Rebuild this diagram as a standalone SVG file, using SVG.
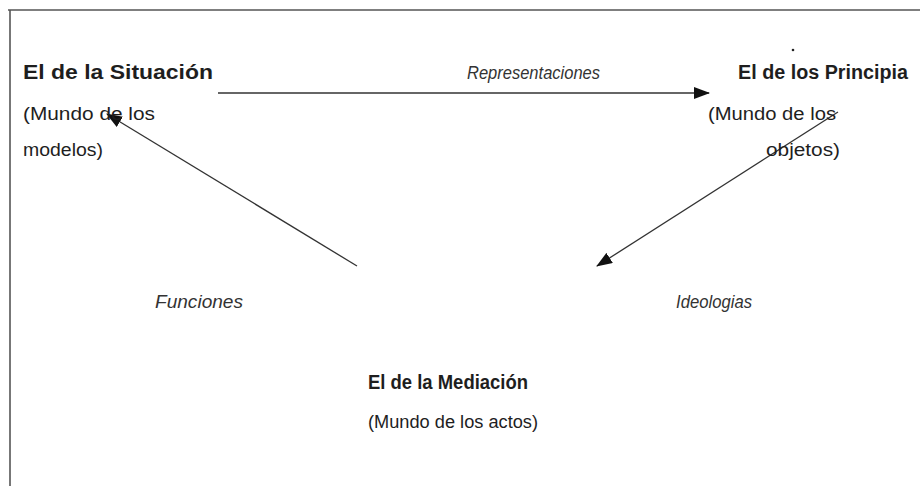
<svg xmlns="http://www.w3.org/2000/svg" width="920" height="486" viewBox="0 0 920 486">
<style>
text{font-family:"Liberation Sans",Arial,sans-serif;fill:#1e1e1e}
.b{font-weight:bold;font-size:20px}
.r{font-size:17.5px}
.i{font-size:18px;font-style:italic;fill:#333}
.c{stroke:#333;stroke-width:1.3;fill:none}
.frame{stroke:#555;stroke-width:1.6;fill:none}
</style>
<defs>
<marker id="ah" viewBox="0 0 16 12" refX="15" refY="6" markerWidth="16" markerHeight="12" markerUnits="userSpaceOnUse" orient="auto">
<path d="M0,0 L16,6 L0,12 Z" fill="#111"/>
</marker>
</defs>
<rect width="920" height="486" fill="#fff"/>
<g id="frame">
<line class="frame" x1="8" y1="10" x2="920" y2="10"/>
<line class="frame" x1="10" y1="10" x2="10" y2="486"/>
</g>
<g id="connectors">
<line class="c" x1="218" y1="93" x2="709" y2="93" marker-end="url(#ah)"/>
<line class="c" x1="357" y1="266" x2="107" y2="114" marker-end="url(#ah)"/>
<line class="c" x1="838" y1="112" x2="597" y2="266" marker-end="url(#ah)"/>
<text class="i" x="467" y="79" textLength="133" lengthAdjust="spacingAndGlyphs">Representaciones</text>
<text class="i" x="155" y="308" textLength="88" lengthAdjust="spacingAndGlyphs">Funciones</text>
<text class="i" x="676" y="308" textLength="76" lengthAdjust="spacingAndGlyphs">Ideologias</text>
</g>
<g id="situacion">
<text class="b" x="23" y="79" textLength="190" lengthAdjust="spacingAndGlyphs">El de la Situación</text>
<text class="r" x="23" y="120" textLength="132" lengthAdjust="spacingAndGlyphs">(Mundo de los</text>
<text class="r" x="23" y="156" textLength="80" lengthAdjust="spacingAndGlyphs">modelos)</text>
</g>
<g id="principia">
<circle cx="793" cy="50" r="1.3" fill="#222"/>
<text class="b" x="738" y="79" textLength="170" lengthAdjust="spacingAndGlyphs">El de los Principia</text>
<text class="r" x="708" y="120" textLength="128" lengthAdjust="spacingAndGlyphs">(Mundo de los</text>
<text class="r" x="766" y="156" textLength="74" lengthAdjust="spacingAndGlyphs">objetos)</text>
</g>
<g id="mediacion">
<text class="b" x="368" y="389" textLength="160" lengthAdjust="spacingAndGlyphs">El de la Mediación</text>
<text class="r" x="368" y="428" textLength="170" lengthAdjust="spacingAndGlyphs">(Mundo de los actos)</text>
</g>
</svg>
